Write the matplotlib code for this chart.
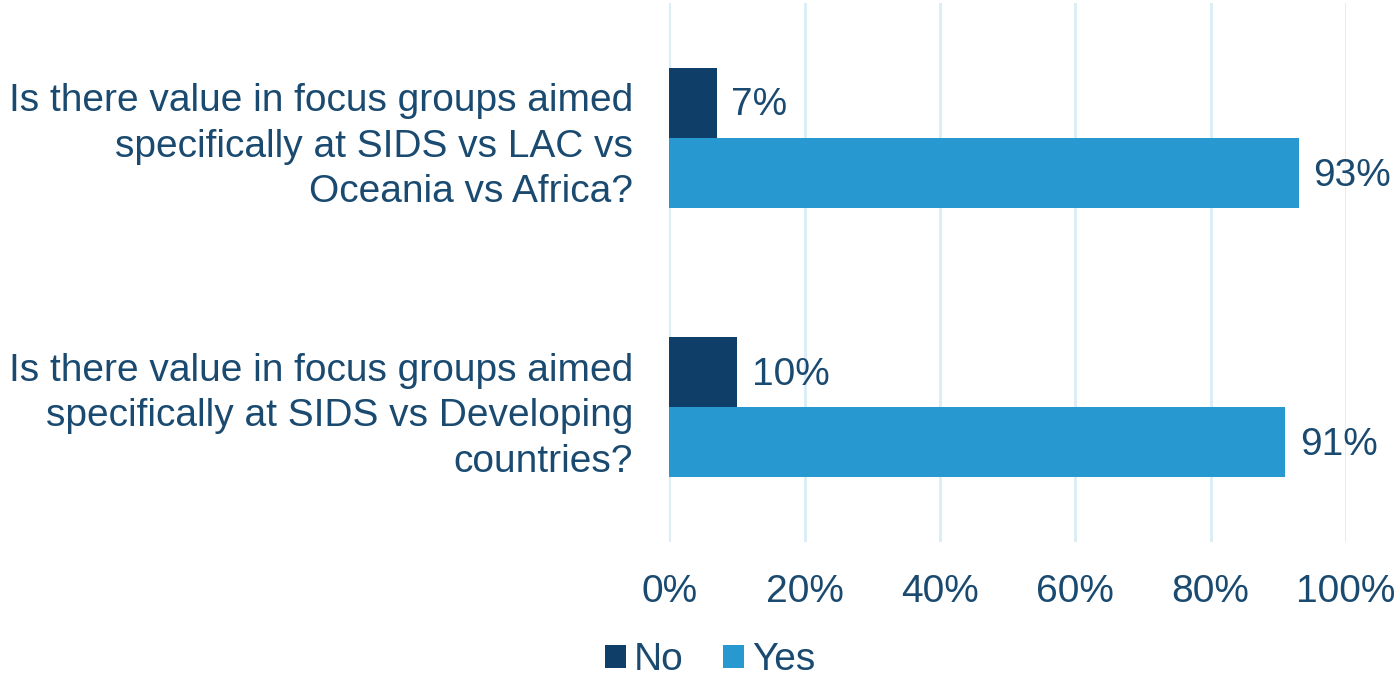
import matplotlib.pyplot as plt
import numpy as np

plt.rcParams['font.family'] = ['Liberation Sans', 'DejaVu Sans']

questions = ['Is there value in focus groups aimed\nspecifically at SIDS vs LAC vs\nOceania vs Africa?',
             'Is there value in focus groups aimed\nspecifically at SIDS vs Developing\ncountries?']
no_vals = [7, 10]
yes_vals = [93, 91]
ticks = [0, 20, 40, 60, 80, 100]

text_col = '#1a4a70'
no_col = '#0f3f68'
yes_col = '#2899d0'
fs = 28

fig = plt.figure(figsize=(13.97, 6.76), dpi=100)
ax = fig.add_axes([0.479, 0.198, 0.4845, 0.7975])

y = np.arange(len(questions))
h = 0.26
b1 = ax.barh(y - h / 2, no_vals, height=h, color=no_col, label='No', zorder=3)
b2 = ax.barh(y + h / 2, yes_vals, height=h, color=yes_col, label='Yes', zorder=3)
for bars in (b1, b2):
    for r in bars:
        ax.text(r.get_width() + 2.2, r.get_y() + r.get_height() / 2 + 0.01,
                '%d%%' % r.get_width(), va='center', ha='left',
                fontsize=fs, color=text_col)

ax.set_ylim(len(questions) - 0.5, -0.5)
ax.set_xlim(0, 100)
ax.set_xticks(ticks)
ax.set_xticklabels(['%d%%' % t for t in ticks], fontsize=fs, color=text_col)
ax.set_yticks(y)
ax.set_yticklabels(questions, fontsize=fs, color=text_col, linespacing=1.34)
ax.tick_params(length=0, axis='x', pad=23)
ax.tick_params(length=0, axis='y', pad=26)
ax.grid(axis='x', color='#d8eef5', linewidth=2, zorder=0)
for s in ax.spines.values():
    s.set_visible(False)

fig.legend(handles=[b1, b2], labels=['No', 'Yes'], loc='center',
           bbox_to_anchor=(710 / 1397, 1 - 660 / 676), ncol=2, frameon=False,
           fontsize=fs, labelcolor=text_col, handlelength=0.55, handleheight=0.55,
           handletextpad=0.2, columnspacing=1.0)

fig.savefig('out.png', dpi=100)
